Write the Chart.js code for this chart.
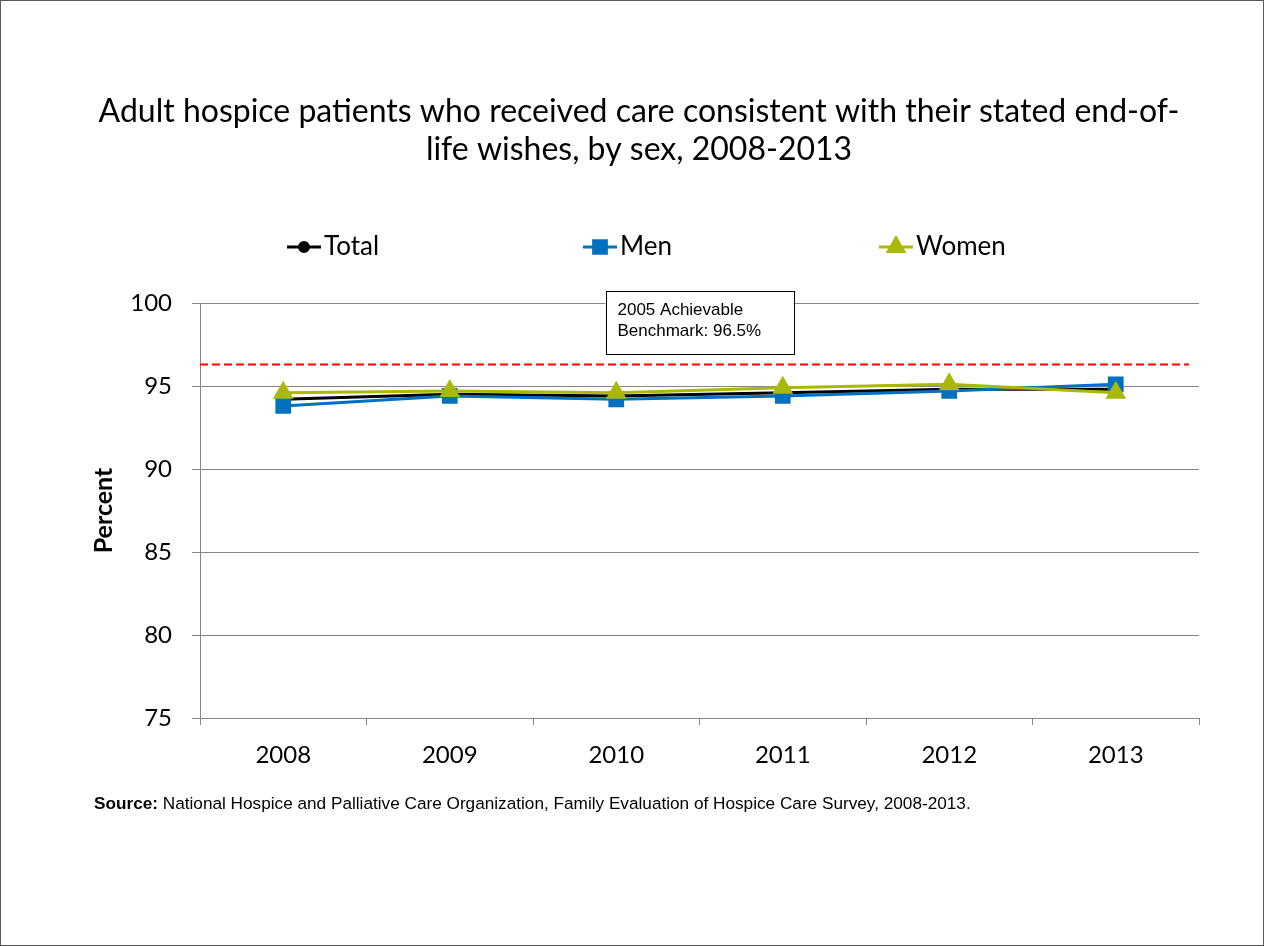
<!DOCTYPE html>
<html>
<head>
<meta charset="utf-8">
<script src="https://cdn.jsdelivr.net/npm/chart.js@4.4.0/dist/chart.umd.min.js"></script>
<style>
    html, body { margin: 0; padding: 0; background: #fff; }
    canvas { display: block; }
</style>
</head>
<body>
<canvas id="myChart" width="1264" height="946"></canvas>
<script>
const years = ["2008", "2009", "2010", "2011", "2012", "2013"];
const total = [94.2, 94.5, 94.4, 94.6, 94.8, 94.8];
const men = [93.8, 94.4, 94.2, 94.4, 94.7, 95.1];
const women = [94.6, 94.7, 94.6, 94.9, 95.1, 94.6];
const benchmark = 96.3;
const benchmarkLabel = ["2005 Achievable", "Benchmark: 96.5%"];
const titleLines = [
    "Adult hospice patients who received care consistent with their stated end-of-",
    "life wishes, by sex, 2008-2013",
];
const sourceBold = "Source:";
const sourceText = " National Hospice and Palliative Care Organization, Family Evaluation of Hospice Care Survey, 2008-2013.";

const calibri = "Lato, 'Open Sans', sans-serif";
const arial = "'Liberation Sans', Arial, sans-serif";
const gridColor = "#868686";

// title, legend, source, frame
const decorations = {
    id: "decorations",
    afterDraw(chart) {
        const ctx = chart.ctx;
        ctx.save();

        ctx.strokeStyle = "#595959";
        ctx.lineWidth = 1;
        ctx.strokeRect(0.5, 0.5, chart.width - 1, chart.height - 1);

        ctx.fillStyle = "#000";
        ctx.textAlign = "center";
        ctx.textBaseline = "middle";
        ctx.font = "32px " + calibri;
        titleLines.forEach((line, i) => {
            ctx.fillText(line, 639, 112 + i * 38);
        });

        // legend
        ctx.font = "26px " + calibri;
        ctx.textAlign = "left";
        chart.data.datasets.forEach((ds, i) => {
            const x = 287 + i * 296;
            const y = 247;
            ctx.strokeStyle = ds.borderColor;
            ctx.lineWidth = 3;
            ctx.beginPath();
            ctx.moveTo(x, y);
            ctx.lineTo(x + 34, y);
            ctx.stroke();
            ctx.fillStyle = ds.pointBackgroundColor;
            ctx.strokeStyle = ds.pointBorderColor;
            Chart.helpers.drawPoint(ctx, {
                pointStyle: ds.pointStyle,
                radius: ds.pointRadius,
                rotation: 0,
                borderWidth: 1,
            }, x + 17, y);
            ctx.fillStyle = "#000";
            ctx.fillText(ds.label, x + 37, y);
        });

        // source
        ctx.font = "bold 17.2px " + arial;
        ctx.fillText(sourceBold, 94, 804);
        const w = ctx.measureText(sourceBold).width;
        ctx.font = "17.2px " + arial;
        ctx.fillText(sourceText, 94 + w, 804);

        ctx.restore();
    },
};

// red dashed benchmark line and its note
const benchmarkPlugin = {
    id: "benchmark",
    beforeDatasetsDraw(chart) {
        const ctx = chart.ctx;
        const area = chart.chartArea;
        const y = chart.scales.y.getPixelForValue(benchmark);
        ctx.save();
        ctx.strokeStyle = "#FF0000";
        ctx.lineWidth = 2;
        ctx.setLineDash([8, 4]);
        ctx.beginPath();
        ctx.moveTo(area.left, y);
        ctx.lineTo(area.right - 10, y);
        ctx.stroke();
        ctx.restore();
    },
    afterDatasetsDraw(chart) {
        const ctx = chart.ctx;
        const xs = chart.scales.x;
        const cx = (xs.getPixelForValue(2) + xs.getPixelForValue(3)) / 2;
        const top = chart.scales.y.getPixelForValue(100) - 12;
        const boxW = 188, boxH = 63;
        ctx.save();
        ctx.fillStyle = "#fff";
        ctx.fillRect(cx - boxW / 2, top, boxW, boxH);
        ctx.strokeStyle = "#000";
        ctx.lineWidth = 1;
        ctx.strokeRect(Math.round(cx - boxW / 2) + 0.5, Math.round(top) + 0.5, boxW, boxH);
        ctx.fillStyle = "#000";
        ctx.font = "17px " + arial;
        ctx.textAlign = "left";
        ctx.textBaseline = "middle";
        benchmarkLabel.forEach((line, i) => {
            ctx.fillText(line, cx - boxW / 2 + 12, top + 19 + i * 21);
        });
        ctx.restore();
    },
};

function buildChart() {
    const config = {
        type: "line",
        data: {
            labels: years,
            datasets: [
                {
                    label: "Total",
                    data: total,
                    order: 3,
                    borderColor: "#000000",
                    backgroundColor: "#000000",
                    pointBackgroundColor: "#000000",
                    pointBorderColor: "#000000",
                    pointStyle: "circle",
                    pointRadius: 4.5,
                    borderWidth: 3,
                },
                {
                    label: "Men",
                    data: men,
                    order: 2,
                    borderColor: "#0070C0",
                    backgroundColor: "#0070C0",
                    pointBackgroundColor: "#0070C0",
                    pointBorderColor: "#0070C0",
                    pointStyle: "rect",
                    pointRadius: 9,
                    borderWidth: 3,
                },
                {
                    label: "Women",
                    data: women,
                    order: 1,
                    borderColor: "#A8B90A",
                    backgroundColor: "#A8B90A",
                    pointBackgroundColor: "#A8B90A",
                    pointBorderColor: "#A8B90A",
                    pointStyle: "triangle",
                    pointRadius: 9,
                    borderWidth: 3,
                },
            ],
        },
        options: {
            responsive: false,
            animation: false,
            devicePixelRatio: 1,
            layout: {
                padding: { left: 0, right: 65, top: 303, bottom: 168 },
            },
            plugins: {
                legend: { display: false },
                title: { display: false },
                tooltip: { enabled: false },
            },
            scales: {
                x: {
                    offset: true,
                    afterFit: (scale) => { scale.height = 60; },
                    grid: {
                        offset: true,
                        drawOnChartArea: false,
                        tickLength: 7,
                        color: gridColor,
                    },
                    border: { color: gridColor },
                    ticks: {
                        color: "#000",
                        padding: 16,
                        font: { family: calibri, size: 24 },
                    },
                },
                y: {
                    min: 75,
                    max: 100,
                    afterFit: (scale) => { scale.width = 200; },
                    grid: { color: gridColor, tickLength: 8 },
                    border: { color: gridColor },
                    ticks: {
                        stepSize: 5,
                        color: "#000",
                        padding: 20,
                        font: { family: calibri, size: 24 },
                    },
                    title: {
                        display: true,
                        text: "Percent",
                        color: "#000",
                        padding: { top: 89 },
                        font: { family: calibri, size: 25, weight: "bold" },
                    },
                },
            },
        },
        plugins: [benchmarkPlugin, decorations],
    };

    const ctx = document.getElementById("myChart").getContext("2d");
    return new Chart(ctx, config);
}

buildChart();
</script>
</body>
</html>
